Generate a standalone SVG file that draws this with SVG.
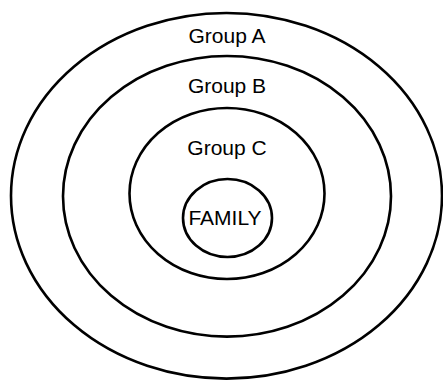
<svg xmlns="http://www.w3.org/2000/svg" width="443" height="380" viewBox="0 0 443 380">
<style>
.ring{fill:none;stroke:#000;stroke-width:2.6}
.lbl{font-family:"Liberation Sans",Arial,sans-serif;font-size:21px;fill:#000;text-anchor:middle}
.fam{font-family:"Liberation Sans",Arial,sans-serif;font-size:21px;fill:#000;text-anchor:middle}
</style>
<rect width="443" height="380" fill="#fff"/>
<g id="groupA">
<ellipse class="ring" cx="226.5" cy="195.8" rx="215.5" ry="182.8"/>
<text class="lbl" x="227" y="42.5">Group A</text>
</g>
<g id="groupB">
<ellipse class="ring" cx="227" cy="196.3" rx="164" ry="140.3"/>
<text class="lbl" x="227" y="92.7">Group B</text>
</g>
<g id="groupC">
<ellipse class="ring" cx="227" cy="193.5" rx="97.5" ry="85.5"/>
<text class="lbl" x="227" y="155">Group C</text>
</g>
<g id="family">
<ellipse class="ring" cx="227.5" cy="218" rx="44.5" ry="39"/>
<text class="fam" x="225" y="225">FAMILY</text>
</g>
<g id="connectors"/>
</svg>
